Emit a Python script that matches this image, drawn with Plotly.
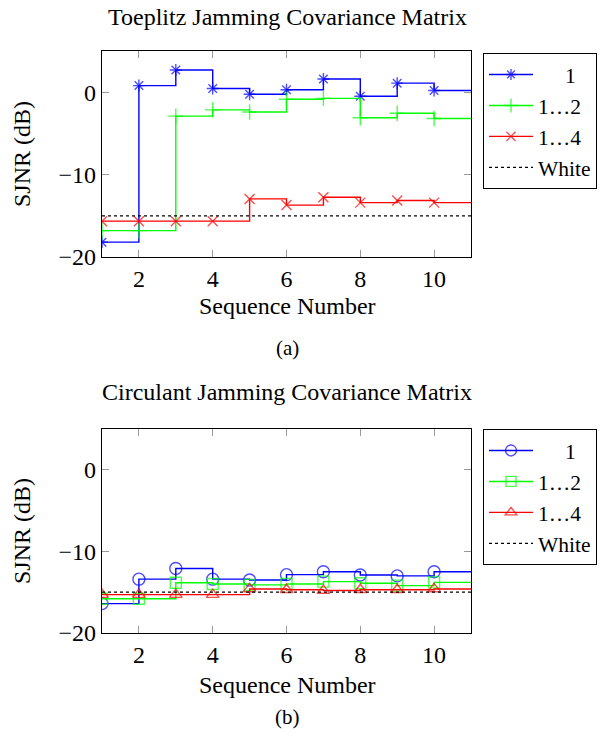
import plotly.graph_objects as go

seq = [1, 2, 3, 4, 5, 6, 7, 8, 9, 10]
x_end = 11

# Toeplitz jamming covariance matrix (SJNR, dB)
toe_1 = [-18.2, 0.8, 2.7, 0.45, -0.25, 0.3, 1.6, -0.5, 1.1, 0.2]
toe_12 = [-16.8, -16.8, -2.9, -2.15, -2.4, -0.85, -0.75, -3.1, -2.55, -3.2]
toe_14 = [-15.65, -15.65, -15.65, -15.65, -12.95, -13.7, -12.75, -13.4, -13.15, -13.4]

# Circulant jamming covariance matrix (SJNR, dB)
cir_1 = [-16.4, -13.4, -12.1, -13.4, -13.5, -12.85, -12.5, -12.9, -13.0, -12.5]
cir_12 = [-15.8, -15.8, -13.85, -14.0, -14.1, -14.0, -13.7, -13.9, -14.2, -13.8]
cir_14 = [-15.3, -15.3, -15.3, -15.3, -14.6, -14.7, -14.8, -14.7, -14.7, -14.6]

white_level = -15.0

names = ["\u00a0\u00a0\u00a0\u00a0\u00a01", "1\u20262", "1\u20264"]
white_name = "White"
colors = ["#0000ff", "#00ff00", "#ff0000"]
top_symbols = ["asterisk-open", "cross-thin-open", "x-thin-open"]
top_sizes = [10, 11, 10]
bot_symbols = ["circle-open", "square-open", "triangle-up-open"]
bot_sizes = [12, 11, 11]

FONT = "Liberation Serif"
FS = 24
LEG_FS = 21.5

# pixel layout helpers
W, H = 612, 738
ML, MR, MT, MB = 102, 141, 51, 105
PH = H - MT - MB
PW = W - ML - MR


def py(pix):
    return (H - MB - pix) / PH


def px(pix):
    return (pix - ML) / PW


fig = go.Figure()


def add_series(vals, name, color, symbol, msize, xa, ya, legend):
    xs = seq + [x_end]
    ys = vals + [vals[-1]]
    sizes = [msize] * len(seq) + [0]
    fig.add_trace(go.Scatter(
        x=xs, y=ys, name=name, mode="lines+markers", line_shape="hv",
        line=dict(color=color, width=1.4),
        marker=dict(symbol=symbol, size=sizes, color=color,
                    line=dict(color=color, width=1.4)),
        xaxis=xa, yaxis=ya, legend=legend,
    ))


for v, n, c, s, ms in zip([toe_1, toe_12, toe_14], names, colors, top_symbols, top_sizes):
    add_series(v, n, c, s, ms, "x", "y", "legend")
fig.add_trace(go.Scatter(x=[1, x_end], y=[white_level, white_level], name=white_name,
                         mode="lines", line=dict(color="black", width=1.3, dash="dot"),
                         xaxis="x", yaxis="y", legend="legend"))

for v, n, c, s, ms in zip([cir_1, cir_12, cir_14], names, colors, bot_symbols, bot_sizes):
    add_series(v, n, c, s, ms, "x2", "y2", "legend2")
fig.add_trace(go.Scatter(x=[1, x_end], y=[white_level, white_level], name=white_name,
                         mode="lines", line=dict(color="black", width=1.3, dash="dot"),
                         xaxis="x2", yaxis="y2", legend="legend2"))

axis_common = dict(showgrid=False, zeroline=False, showline=True, linecolor="black",
                   linewidth=1.2, mirror="ticks", ticks="inside", ticklen=7,
                   tickcolor="#9a9a9a", tickwidth=1, automargin=False,
                   tickfont=dict(family=FONT, size=FS, color="black"))

xaxis = dict(axis_common, range=[1, 11], tickvals=[2, 4, 6, 8, 10])
yaxis = dict(axis_common, range=[-20, 5], tickvals=[0, -10, -20])

legend_common = dict(bgcolor="white", bordercolor="black", borderwidth=1,
                     font=dict(family=FONT, size=LEG_FS, color="black"),
                     xanchor="left", yanchor="top", x=px(483),
                     tracegroupgap=0, itemwidth=44)


def text_ann(text, x_pix, y_pix, size=FS, angle=0):
    return dict(text=text, xref="paper", yref="paper",
                x=px(x_pix), y=py(y_pix),
                showarrow=False, xanchor="center", yanchor="middle", textangle=angle,
                font=dict(family=FONT, size=size, color="black"))


fig.update_layout(
    width=W, height=H,
    margin=dict(l=ML, r=MR, t=MT, b=MB),
    plot_bgcolor="white", paper_bgcolor="white",
    font=dict(family=FONT, size=FS, color="black"),
    xaxis=dict(xaxis, domain=[0, 1], anchor="y"),
    yaxis=dict(yaxis, domain=[py(257), 1], anchor="x"),
    xaxis2=dict(xaxis, domain=[0, 1], anchor="y2"),
    yaxis2=dict(yaxis, domain=[0, py(429)], anchor="x2"),
    legend=dict(legend_common, y=py(53)),
    legend2=dict(legend_common, y=py(429)),
    showlegend=True,
    annotations=[
        text_ann("Toeplitz Jamming Covariance Matrix", 287, 17),
        text_ann("SJNR (dB)", 22, 154, angle=-90),
        text_ann("Sequence Number", 287, 306),
        text_ann("(a)", 287, 348, size=21),
        text_ann("Circulant Jamming Covariance Matrix", 287, 392),
        text_ann("SJNR (dB)", 22, 531, angle=-90),
        text_ann("Sequence Number", 287, 685),
        text_ann("(b)", 287, 717, size=21),
    ],
)

fig.write_html("out.html", config={"displayModeBar": False},
               post_script="document.body.style.margin='0';document.body.style.overflow='hidden';")
